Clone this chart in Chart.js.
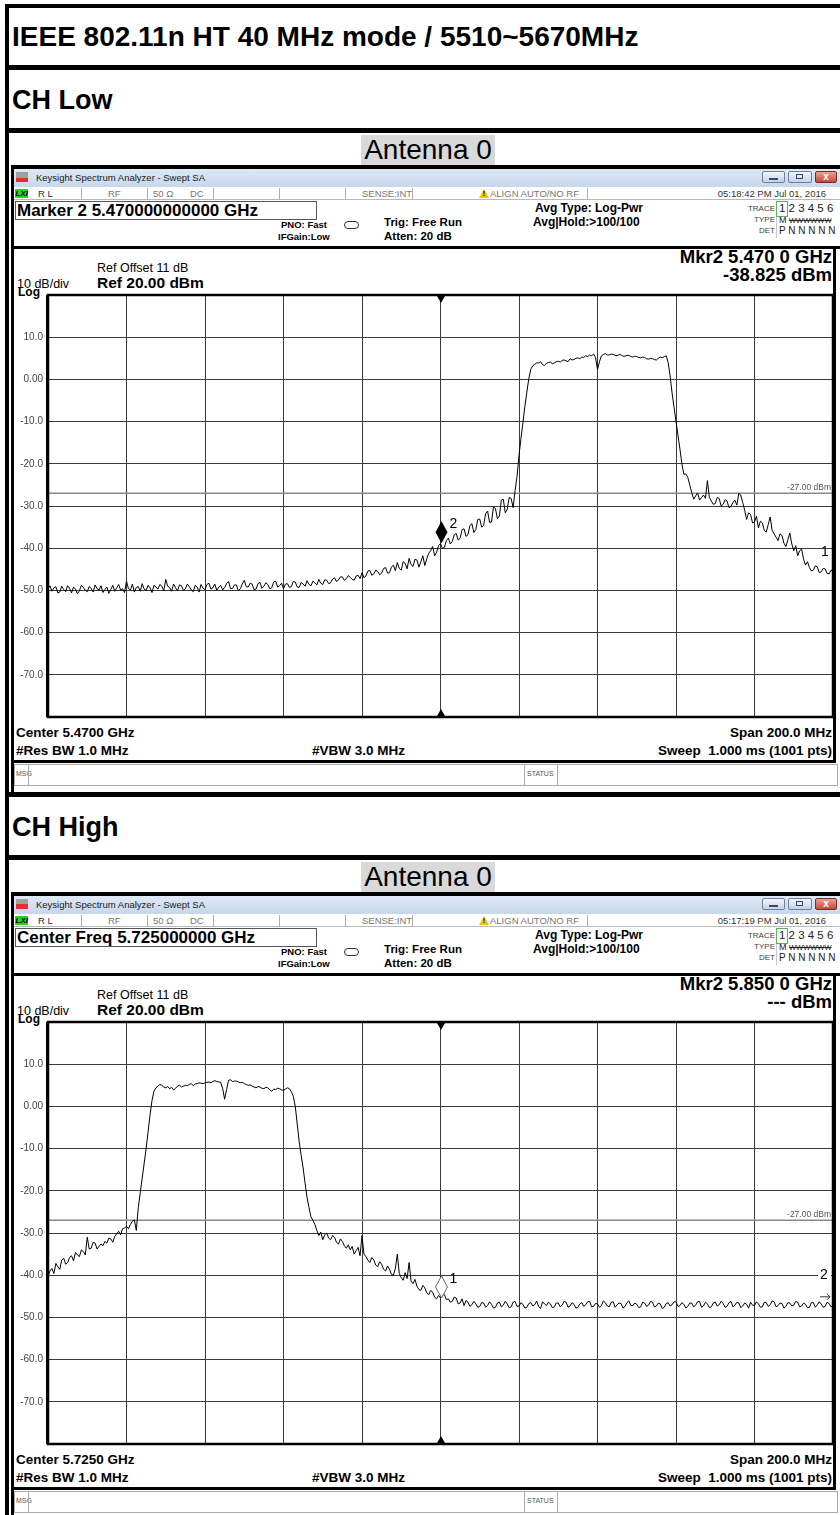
<!DOCTYPE html>
<html><head><meta charset="utf-8">
<script src="https://cdn.jsdelivr.net/npm/chart.js@4.4.1/dist/chart.umd.min.js"></script>
<style>
html,body{margin:0;padding:0;background:#fff;}
body{width:840px;height:1515px;position:relative;overflow:hidden;font-family:"Liberation Sans",Arial,sans-serif;color:#000;}
canvas{position:absolute;}
</style></head><body>
<script>
// ---------------- DATA ----------------
const pageTitle = 'IEEE 802.11n HT 40 MHz mode / 5510~5670MHz';
const channelNames = ['CH Low', 'CH High'];
const antennaName = 'Antenna 0';

const spanMHz = 200, divMHz = 20;
const refLevel = 20, bottomLevel = -80, dbPerDiv = 10;
const yTickValues = [20, 10, 0, -10, -20, -30, -40, -50, -60, -70, -80];
const yTickLabels = ['', '10.0', '0.00', '-10.0', '-20.0', '-30.0', '-40.0', '-50.0', '-60.0', '-70.0', ''];
const limitLevel = -27;
const limitLabel = '-27.00 dBm';

// CH Low sweep: 5370 .. 5570 MHz, one reading every 0.5 MHz
const lowFreqStart = 5370, lowFreqStep = 0.5, lowCenter = 5470;
const lowTrace = [
 -49.6,-48.9,-50.2,-49.4,-49.1,-50.6,-50.4,-49.0,-49.8,-50.3,-48.9,-49.5,-50.6,-49.2,-49.7,-50.8,-50.1,-48.8,-49.3,-50.0,
 -50.3,-49.1,-49.5,-50.4,-48.7,-49.6,-49.9,-48.9,-50.5,-49.8,-49.2,-50.7,-49.8,-48.8,-50.2,-49.4,-48.6,-49.9,-49.6,-50.5,
 -47.8,-49.6,-49.9,-48.5,-50.4,-49.3,-49.1,-50.2,-48.4,-49.7,-50.0,-48.8,-49.4,-50.5,-48.8,-49.2,-49.7,-48.6,-49.0,-50.1,
 -47.4,-49.0,-49.3,-50.2,-48.5,-49.4,-50.1,-48.7,-48.9,-50.0,-49.6,-48.5,-49.1,-49.9,-50.3,-48.8,-49.2,-50.4,-48.6,-49.5,
 -49.8,-48.6,-48.3,-49.7,-49.4,-48.5,-50.0,-49.2,-48.8,-49.9,-49.3,-48.4,-47.9,-49.6,-49.5,-48.7,-48.7,-50.1,-49.6,-48.5,
 -47.6,-49.1,-49.2,-48.3,-48.5,-49.8,-49.7,-48.4,-48.1,-49.5,-49.0,-48.2,-48.6,-49.6,-49.4,-48.0,-47.8,-49.2,-48.9,-48.3,
 -49.6,-48.5,-48.4,-49.3,-49.1,-47.9,-48.0,-49.2,-49.3,-48.1,-48.5,-49.0,-47.7,-48.6,-48.9,-47.8,-48.2,-48.7,-47.4,-48.3,
 -48.6,-47.5,-47.6,-48.4,-48.2,-47.3,-47.0,-47.9,-47.5,-46.8,-46.8,-47.6,-47.2,-46.5,-46.9,-47.4,-47.6,-46.6,-46.4,-47.2,
 -45.8,-47.0,-46.6,-45.4,-45.3,-46.4,-46.1,-45.2,-45.5,-46.3,-45.9,-44.8,-44.6,-45.9,-45.8,-44.5,-44.0,-45.3,-43.4,-44.8,
 -45.2,-43.2,-43.6,-44.9,-42.4,-43.9,-44.3,-42.6,-42.8,-44.5,-43.2,-41.8,-44.1,-42.5,-41.2,-40.6,-39.6,-41.8,-41.0,-39.4,
 -38.9,-40.1,-39.8,-38.2,-37.6,-39.0,-38.4,-36.8,-36.5,-38.1,-37.6,-35.6,-35.4,-37.2,-36.8,-34.6,-34.2,-36.3,-35.6,-33.2,
 -33.1,-35.0,-34.6,-31.8,-31.2,-33.9,-33.8,-30.2,-30.6,-33.0,-32.4,-28.6,-28.4,-31.6,-30.8,-28.0,-28.2,-30.4,-26.4,-23.0,
 -18.0,-14.0,-10.2,-6.4,-3.0,0.2,2.4,3.2,3.6,3.9,3.9,4.2,3.5,3.3,3.8,4.0,4.1,3.7,3.9,4.2,
 4.3,4.1,4.5,4.6,4.4,4.2,4.9,4.6,4.7,5.0,5.1,4.9,5.3,5.2,5.6,5.4,5.8,5.6,6.0,5.2,
 2.3,4.2,5.6,5.9,6.1,5.8,5.8,6.0,5.9,5.7,5.6,5.9,5.8,5.5,5.5,5.7,5.7,5.4,5.3,5.5,
 5.4,5.2,5.1,5.3,5.2,4.9,4.8,5.0,4.9,4.7,4.6,5.0,5.3,5.1,5.4,5.6,4.0,0.8,-3.2,-6.6,
 -10.0,-13.2,-16.5,-20.0,-22.5,-22.4,-23.2,-25.0,-26.8,-28.4,-27.6,-26.9,-28.6,-28.0,-27.4,-28.2,-24.0,-28.0,-28.8,-29.6,
 -29.4,-28.0,-28.2,-30.0,-29.6,-28.5,-28.8,-30.4,-30.1,-29.2,-28.6,-29.8,-27.0,-27.4,-29.2,-31.0,-33.2,-31.6,-32.0,-34.0,
 -33.8,-32.4,-35.2,-33.6,-34.0,-35.8,-36.2,-34.4,-32.6,-35.8,-36.6,-37.4,-38.2,-36.6,-37.0,-38.8,-39.6,-38.0,-36.4,-39.0,
 -40.6,-39.4,-41.8,-40.6,-40.2,-42.6,-44.0,-43.2,-44.6,-45.4,-45.2,-44.2,-44.4,-45.8,-45.6,-44.8,-44.9,-46.0,-46.1,-45.2,
 -45.4
];
const lowMarkers = [
 {id:'2', f:5470, level:-38.8, kind:'filled'},
 {id:'1', f:5570, level:-45.4, kind:'edge'}
];

// CH High sweep: 5625 .. 5825 MHz, one reading every 0.5 MHz
const highFreqStart = 5625, highFreqStep = 0.5, highCenter = 5725;
const highTrace = [
 -40.2,-39.0,-38.4,-39.6,-37.2,-38.0,-38.6,-36.4,-36.0,-37.4,-37.0,-35.8,-35.4,-36.6,-34.6,-35.2,-35.6,-34.0,-34.4,-35.2,
 -31.0,-33.8,-33.6,-32.2,-32.4,-33.8,-33.2,-32.6,-33.0,-32.0,-32.4,-31.2,-31.4,-32.2,-30.8,-30.2,-29.6,-30.4,-29.0,-28.8,
 -28.4,-29.0,-28.0,-27.2,-26.9,-29.4,-24.0,-20.5,-17.0,-13.5,-10.0,-6.0,-2.0,1.4,3.6,4.4,4.8,5.2,5.0,4.6,
 4.4,4.7,4.2,4.5,3.9,4.3,4.8,5.0,4.6,4.8,5.0,4.9,5.2,5.4,4.9,5.3,5.4,5.6,5.5,5.4,
 5.6,5.7,5.8,5.6,5.9,6.1,5.9,5.8,5.7,4.2,1.7,4.0,6.2,6.3,5.9,6.0,6.0,5.8,5.6,5.7,
 5.4,5.2,5.0,5.1,4.8,4.6,4.4,4.7,4.6,4.3,4.2,4.5,4.4,3.9,3.6,4.1,4.0,4.3,4.2,3.9,
 3.8,4.1,4.4,4.2,3.5,2.4,0.0,-4.2,-8.4,-11.6,-14.6,-18.2,-21.6,-24.0,-26.2,-27.0,-28.0,-29.4,-30.6,-29.8,
 -31.6,-30.4,-30.0,-31.2,-31.6,-30.6,-31.0,-32.2,-32.6,-31.4,-32.0,-33.0,-33.6,-32.8,-34.0,-33.2,-35.0,-34.2,-33.4,-35.4,
 -30.6,-35.0,-35.6,-36.4,-37.0,-35.8,-36.4,-37.6,-38.0,-36.8,-37.4,-38.6,-39.0,-37.8,-38.6,-39.8,-40.0,-38.4,-35.0,-39.6,
 -40.6,-41.2,-39.4,-40.8,-37.0,-41.4,-42.0,-41.0,-42.6,-43.4,-43.6,-42.4,-43.0,-44.2,-44.6,-43.6,-44.0,-45.2,-45.6,-44.8,
 -45.4,-44.6,-44.6,-45.8,-45.6,-46.4,-46.2,-45.2,-45.4,-46.8,-46.6,-45.6,-47.2,-46.0,-46.4,-47.4,-47.0,-46.2,-46.8,-47.6,
 -47.4,-46.5,-46.6,-47.6,-47.2,-46.3,-46.9,-47.8,-47.6,-46.6,-46.4,-47.5,-47.1,-46.2,-46.8,-47.7,-47.5,-46.4,-46.2,-47.4,
 -47.3,-46.5,-46.9,-47.8,-47.6,-46.7,-46.5,-47.3,-47.0,-46.1,-47.4,-47.9,-46.3,-46.8,-47.2,-46.4,-46.8,-47.7,-47.5,-46.6,
 -46.6,-47.5,-47.1,-46.2,-46.4,-47.6,-47.3,-46.5,-46.9,-47.8,-47.6,-46.8,-46.5,-47.4,-47.0,-46.3,-46.2,-47.5,-47.4,-46.7,
 -46.8,-47.6,-47.2,-46.1,-46.5,-47.3,-47.5,-46.4,-46.3,-47.6,-47.0,-46.6,-46.7,-47.8,-47.4,-46.5,-46.1,-47.2,-47.2,-46.6,
 -46.9,-47.7,-47.5,-46.4,-46.6,-47.4,-47.1,-46.2,-46.4,-47.5,-47.3,-46.6,-46.8,-47.9,-47.6,-46.7,-46.5,-47.3,-47.0,-46.3,
 -46.3,-47.4,-47.2,-46.5,-46.9,-47.8,-47.4,-46.6,-46.6,-47.5,-47.1,-46.3,-46.2,-47.6,-47.3,-46.4,-46.8,-47.7,-47.5,-46.6,
 -46.4,-47.3,-47.0,-46.2,-46.7,-47.6,-47.4,-46.5,-46.2,-47.5,-47.1,-46.4,-46.6,-47.7,-47.3,-46.6,-46.9,-47.8,-46.4,-47.1,
 -47.2,-46.3,-46.8,-47.6,-47.5,-46.4,-46.5,-47.4,-47.0,-46.1,-46.3,-47.5,-47.2,-46.6,-46.7,-47.8,-47.4,-46.5,-46.6,-47.3,
 -47.1,-46.2,-46.4,-47.5,-47.3,-46.6,-46.9,-47.7,-47.6,-46.5,-46.5,-47.6,-47.0,-46.3,-46.8,-47.6,-47.4,-46.4,-46.7,-47.5,
 -47.2
];
const highMarkers = [
 {id:'1', f:5725, level:-45.4, kind:'open'},
 {id:'2', f:5850, level:-45.0, kind:'offscreen'}
];

const headerLines = ['Marker 2 5.470000000000 GHz', 'Center Freq 5.725000000 GHz'];
const timeStamps = ['05:18:42 PM Jul 01, 2016', '05:17:19 PM Jul 01, 2016'];
const mkrFreqTexts = ['Mkr2 5.470 0 GHz', 'Mkr2 5.850 0 GHz'];
const mkrValTexts = ['-38.825 dBm', '--- dBm'];
const centerTexts = ['Center 5.4700 GHz', 'Center 5.7250 GHz'];

// ---------------- HELPERS ----------------
const FONT = '"Liberation Sans", Arial, sans-serif';
function R(x, y, w, h, css){
  const d = document.createElement('div');
  d.style.cssText = `position:absolute;left:${x}px;top:${y}px;width:${w}px;height:${h}px;` + (css||'');
  document.body.appendChild(d); return d;
}
function T(s, x, yc, size, o){
  o = o || {};
  const d = document.createElement('div');
  const align = o.align || 'left';
  let left = x, w = '';
  if (align === 'right') { left = x - 500; w = 'width:500px;'; }
  else if (align === 'center') { left = x - 250; w = 'width:500px;'; }
  d.style.cssText = `position:absolute;white-space:pre;left:${left}px;top:${yc - size*0.6}px;${w}text-align:${align};` +
    `font-size:${size}px;line-height:${size*1.2}px;font-weight:${o.bold?'bold':'normal'};font-style:${o.italic?'italic':'normal'};` +
    `color:${o.color||'#000'};font-family:${o.family||FONT};` + (o.css||'');
  d.textContent = s; document.body.appendChild(d); return d;
}

// ---------------- PAGE FRAME ----------------
R(5, 4, 835, 4, 'background:#000');
R(5, 4, 4, 1511, 'background:#000');
T(pageTitle, 12, 37, 28, {bold:true});

function buildBlock(k, off){
  R(5, 65+off, 835, 5, 'background:#000');
  T(channelNames[k], 12, 100+off, 27, {bold:true});
  R(5, 128+off, 835, 5, 'background:#000');
  R(361, 135+off, 134, 30, 'background:#d9d9d9');
  T(antennaName, 428, 150+off, 28, {align:'center'});

  // screenshot frame
  R(11, 165+off, 829, 4, 'background:#000');
  R(11, 165+off, 3, 627, 'background:#000');
  // title bar
  R(14, 169+off, 826, 18, 'background:linear-gradient(#dfe9f6,#c6d7ec)');
  R(16, 172+off, 12, 10, 'background:linear-gradient(#a0a0a0 0,#a0a0a0 55%,#e23030 55%,#e23030 100%)');
  T('Keysight Spectrum Analyzer - Swept SA', 36, 178+off, 9.5, {color:'#1a1a1a'});
  R(762, 171+off, 23, 12, 'border:1px solid #6d7f99;border-radius:2px;box-sizing:border-box;background:linear-gradient(#f2f6fb,#c3d2e6)');
  R(769, 178+off, 9, 2, 'background:#3a4a66');
  R(788, 171+off, 24, 12, 'border:1px solid #6d7f99;border-radius:2px;box-sizing:border-box;background:linear-gradient(#f2f6fb,#c3d2e6)');
  R(796, 174+off, 7, 5, 'border:1px solid #3a4a66;box-sizing:border-box');
  R(815, 171+off, 22, 12, 'border:1px solid #7a2c24;border-radius:2px;box-sizing:border-box;background:linear-gradient(#eaa392,#c5483a)');
  T('x', 826, 176.5+off, 10, {align:'center', bold:true, color:'#fff'});

  // status row
  R(14, 187+off, 826, 13, 'background:#fff;border-bottom:1px solid #b8b8b8;box-sizing:border-box');
  R(15, 189+off, 13, 9, 'background:#1ed81e');
  T('LXI', 15.5, 193.5+off, 8, {bold:true, italic:true, color:'#000'});
  T('R L', 38, 193.5+off, 9.5, {color:'#333'});
  [81,147,213,279,345,412,587].forEach(x => R(x, 188+off, 1, 12, 'background:#b0b0b0'));
  T('RF', 108, 193.5+off, 9.5, {color:'#777'});
  T('50 Ω', 153, 193.5+off, 9.5, {color:'#777'});
  T('DC', 190, 193.5+off, 9.5, {color:'#777'});
  T('SENSE:INT', 362, 193.5+off, 9.5, {color:'#777'});
  R(479, 189+off, 0, 0, 'border-left:5px solid transparent;border-right:5px solid transparent;border-bottom:9px solid #f2c200');
  T('!', 484, 194.5+off, 7, {align:'center', bold:true});
  T('ALIGN AUTO/NO RF', 490, 193.5+off, 9.5, {color:'#777'});
  T(timeStamps[k], 826, 193.5+off, 9.5, {align:'right', color:'#333'});

  // marker / settings area
  R(15, 201+off, 302, 19, 'border:1px solid #555;box-sizing:border-box');
  T(headerLines[k], 17, 211+off, 17, {bold:true});
  T('PNO: Fast', 281, 224.5+off, 9.5, {bold:true});
  T('IFGain:Low', 278, 237+off, 9.5, {bold:true});
  R(344, 221+off, 15, 8, 'border:1px solid #333;border-radius:4px;box-sizing:border-box');
  T('Trig: Free Run', 384, 223+off, 11.5, {bold:true});
  T('Atten: 20 dB', 384, 237+off, 11.5, {bold:true});
  T('Avg Type: Log-Pwr', 535, 208+off, 12, {bold:true});
  T('Avg|Hold:>100/100', 533, 222+off, 12, {bold:true});
  T('TRACE', 775, 209+off, 8, {align:'right', color:'#444'});
  T('TYPE', 775, 220+off, 8, {align:'right', color:'#444'});
  T('DET', 775, 231+off, 8, {align:'right', color:'#444'});
  R(776, 201+off, 12, 16, 'border:1px solid #57b657;box-sizing:border-box');
  R(776, 217+off, 1, 21, 'background:#c8c8c8');
  T('1 2 3 4 5 6', 779, 209+off, 11.5, {color:'#222'});
  T('M', 779, 220+off, 9, {color:'#222'});
  T('WWWWWW', 789, 220+off, 7.5, {color:'#222', css:'text-decoration:line-through;'});
  T('P N N N N N', 779, 231+off, 10, {color:'#222'});

  // divider
  R(14, 246+off, 826, 3, 'background:#000');
  R(833, 247+off, 3, 516, 'background:#000');

  T('Ref Offset 11 dB', 97, 268+off, 12.5);
  T('Ref 20.00 dBm', 97, 283+off, 15.5, {bold:true});
  T('10 dB/div', 17, 284+off, 12.5);
  T('Log', 18, 292+off, 12, {bold:true});
  T(mkrFreqTexts[k], 832, 257+off, 18.5, {align:'right', bold:true});
  T(mkrValTexts[k], 832, 275+off, 18.5, {align:'right', bold:true});

  T(centerTexts[k], 16, 733+off, 13.5, {bold:true});
  T('#Res BW 1.0 MHz', 16, 751+off, 13.5, {bold:true});
  T('#VBW 3.0 MHz', 312, 751+off, 13.5, {bold:true});
  T('Span 200.0 MHz', 832, 733+off, 13.5, {align:'right', bold:true});
  T('Sweep  1.000 ms (1001 pts)', 832, 751+off, 13.5, {align:'right', bold:true});

  R(14, 760+off, 822, 3, 'background:#000');
  R(14, 764+off, 824, 22, 'border:1px solid #aaa;box-sizing:border-box;background:#fff');
  T('MSG', 16, 774+off, 7, {color:'#555'});
  R(28, 764+off, 1, 22, 'background:#aaa');
  R(524, 764+off, 1, 22, 'background:#aaa');
  T('STATUS', 527, 774+off, 7, {color:'#555'});
  R(557, 764+off, 1, 22, 'background:#aaa');
}

// ---------------- CHARTS ----------------
Chart.defaults.font.family = FONT;

function overlay(markers, center){
  return {
    id: 'saOverlay',
    afterDatasetsDraw(chart){
      const {ctx, chartArea: ca, scales: {x, y}} = chart;
      ctx.save();
      ctx.font = '8.5px ' + FONT; ctx.fillStyle = '#555';
      ctx.textAlign = 'right'; ctx.textBaseline = 'alphabetic';
      ctx.fillText(limitLabel, ca.right - 2, y.getPixelForValue(limitLevel) - 3);
      const cx = Math.round(x.getPixelForValue(center));
      ctx.fillStyle = '#000';
      ctx.beginPath(); ctx.moveTo(cx-4, ca.top+1); ctx.lineTo(cx+4, ca.top+1); ctx.lineTo(cx, ca.top+8); ctx.closePath(); ctx.fill();
      ctx.beginPath(); ctx.moveTo(cx-4, ca.bottom-1); ctx.lineTo(cx+4, ca.bottom-1); ctx.lineTo(cx, ca.bottom-8); ctx.closePath(); ctx.fill();
      markers.forEach(m => {
        const py = y.getPixelForValue(m.level);
        ctx.font = '14px ' + FONT; ctx.textBaseline = 'middle';
        if (m.kind === 'filled' || m.kind === 'open') {
          const px = Math.round(x.getPixelForValue(m.f)) + 0.5;
          ctx.beginPath(); ctx.moveTo(px, py); ctx.lineTo(px+6, py-11); ctx.lineTo(px, py-22); ctx.lineTo(px-6, py-11); ctx.closePath();
          if (m.kind === 'filled') { ctx.fillStyle = '#000'; ctx.fill(); }
          else { ctx.fillStyle = '#fff'; ctx.fill(); ctx.strokeStyle = '#666'; ctx.lineWidth = 1; ctx.stroke(); }
          ctx.fillStyle = '#000'; ctx.textAlign = 'left'; ctx.fillText(m.id, px+8, py-19);
        } else if (m.kind === 'edge') {
          const px = x.getPixelForValue(m.f);
          ctx.fillStyle = '#000'; ctx.textAlign = 'center'; ctx.fillText(m.id, px-8, py-19);
        } else if (m.kind === 'offscreen') {
          const px = ca.right;
          ctx.fillStyle = '#fff'; ctx.fillRect(px-15, py-28, 13, 15);
          ctx.fillStyle = '#000'; ctx.textAlign = 'center'; ctx.fillText(m.id, px-9, py-21);
          ctx.strokeStyle = '#333'; ctx.lineWidth = 1;
          ctx.beginPath(); ctx.moveTo(px-13, py+0.5); ctx.lineTo(px-3, py+0.5);
          ctx.moveTo(px-6, py-2.5); ctx.lineTo(px-3, py+0.5); ctx.lineTo(px-6, py+3.5); ctx.stroke();
        }
      });
      ctx.restore();
    },
    afterDraw(chart){
      const {ctx, chartArea: ca} = chart;
      ctx.save();
      ctx.strokeStyle = '#000'; ctx.lineWidth = 2.5;
      ctx.strokeRect(ca.left, ca.top, ca.right - ca.left, ca.bottom - ca.top);
      ctx.fillStyle = '#000'; ctx.fillRect(ca.left - 2, ca.top, 2, ca.bottom - ca.top);
      ctx.restore();
    }
  };
}

function makeChart(top, fStart, fStep, trace, markers, center){
  const cv = document.createElement('canvas');
  cv.width = 822; cv.height = 444;
  cv.style.cssText = `left:14px;top:${top}px;width:822px;height:444px;`;
  document.body.appendChild(cv);
  const fMin = center - spanMHz/2, fMax = center + spanMHz/2;
  const gridFreqs = [];
  for (let g = fMin; g <= fMax; g += divMHz) gridFreqs.push(g);
  const pts = trace.map((v, i) => ({x: fStart + i*fStep, y: v}));
  new Chart(cv, {
    type: 'line',
    data: { datasets: [
      { data: [{x: fMin, y: limitLevel}, {x: fMax, y: limitLevel}], borderColor: '#8a8a8a', borderWidth: 1.5, pointRadius: 0, order: 2 },
      { data: pts, borderColor: '#000', borderWidth: 1, pointRadius: 0, tension: 0, order: 1 }
    ]},
    options: {
      responsive: false, animation: false, devicePixelRatio: 1, events: [],
      layout: { padding: { top: 10, bottom: 6, left: 0, right: 3 } },
      plugins: { legend: { display: false }, tooltip: { enabled: false } },
      scales: {
        x: { type: 'linear', min: fMin, max: fMax,
             ticks: { display: false }, grid: { color: '#3a3a3a', lineWidth: 1, drawTicks: false },
             border: { display: false },
             afterBuildTicks(a){ a.ticks = gridFreqs.map(v => ({value: v})); },
             afterFit(a){ a.height = 0; } },
        y: { type: 'linear', min: bottomLevel, max: refLevel,
             ticks: { stepSize: dbPerDiv, padding: 5, color: '#444', font: { size: 10, family: FONT },
                      callback: v => { const i = yTickValues.indexOf(v); return i >= 0 ? yTickLabels[i] : ''; } },
             grid: { color: '#3a3a3a', lineWidth: 1, drawTicks: false },
             border: { display: false },
             afterFit(a){ a.width = 34; } }
      }
    },
    plugins: [overlay(markers, center)]
  });
}

buildBlock(0, 0);
buildBlock(1, 727);
makeChart(284, lowFreqStart, lowFreqStep, lowTrace, lowMarkers, lowCenter);
makeChart(284 + 727, highFreqStart, highFreqStep, highTrace, highMarkers, highCenter);
</script>
</body></html>
